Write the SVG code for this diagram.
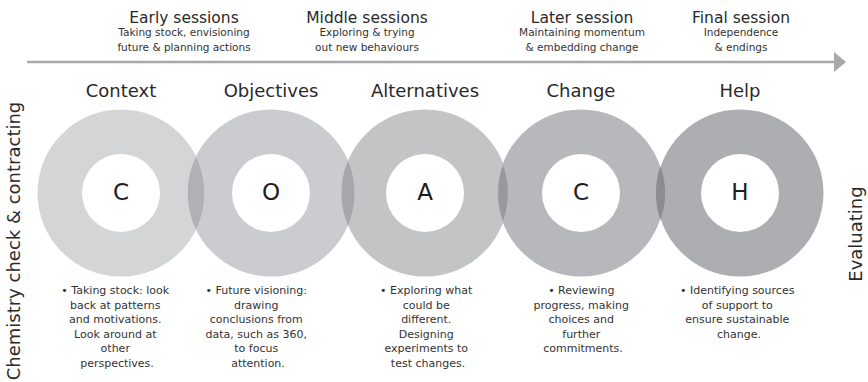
<svg xmlns="http://www.w3.org/2000/svg" width="868" height="382" viewBox="0 0 868 382">
  <style>
    text { font-family: "DejaVu Sans", "Liberation Sans", sans-serif; text-anchor: middle; }
    .phase { font-size: 15.5px; fill: #2a2a2a; }
    .phase-sub { font-size: 10.5px; fill: #333; }
    .title { font-size: 18px; fill: #2a2a2a; }
    .letter { font-size: 23px; fill: #1e1e1e; }
    .body { font-size: 11px; fill: #333; }
    .side { font-size: 18px; fill: #2a2a2a; }
    .hole { fill: #ffffff; }
  </style>
  <defs>
    <marker id="arrowhead" markerUnits="userSpaceOnUse" markerWidth="12" markerHeight="20" refX="1" refY="10" orient="auto">
      <path d="M0,0 L12,10 L0,20 Z" fill="#a8a9ab"/>
    </marker>
  </defs>

  <rect width="868" height="382" fill="#ffffff"/>

  <!-- timeline of session phases -->
  <g id="connectors">
    <line x1="27" y1="62" x2="835" y2="62" stroke="#a8a9ab" stroke-width="2.5" marker-end="url(#arrowhead)"/>
  </g>

  <g id="phase-early">
    <text class="phase" x="184" y="23">Early sessions</text>
    <text class="phase-sub" x="184" y="36">Taking stock, envisioning</text>
    <text class="phase-sub" x="184" y="51">future &amp; planning actions</text>
  </g>
  <g id="phase-middle">
    <text class="phase" x="367" y="23">Middle sessions</text>
    <text class="phase-sub" x="367" y="36">Exploring &amp; trying</text>
    <text class="phase-sub" x="367" y="51">out new behaviours</text>
  </g>
  <g id="phase-later">
    <text class="phase" x="582" y="23">Later session</text>
    <text class="phase-sub" x="582" y="36">Maintaining momentum</text>
    <text class="phase-sub" x="582" y="51">&amp; embedding change</text>
  </g>
  <g id="phase-final">
    <text class="phase" x="741" y="23">Final session</text>
    <text class="phase-sub" x="741" y="36">Independence</text>
    <text class="phase-sub" x="741" y="51">&amp; endings</text>
  </g>

  <!-- side labels -->
  <text class="side" transform="translate(20,241) rotate(-90)">Chemistry check &amp; contracting</text>
  <text class="side" transform="translate(862,234) rotate(-90)">Evaluating</text>

  <!-- outer rings -->
  <g id="node-context">
    <circle cx="121" cy="193" r="83.5" fill="#d4d5d7"/>
    <circle class="hole" cx="121" cy="193" r="39"/>
    <text class="title" x="121" y="97">Context</text>
    <text class="letter" x="121" y="200">C</text>
    <text class="body">
      <tspan x="117" y="294">• Taking stock: look</tspan>
      <tspan x="117" y="308.6">back at patterns</tspan>
      <tspan x="117" y="323.2">and motivations.</tspan>
      <tspan x="117" y="337.8">Look around at</tspan>
      <tspan x="117" y="352.4">other</tspan>
      <tspan x="117" y="367">perspectives.</tspan>
    </text>
  </g>

  <g id="node-objectives">
    <circle cx="271" cy="193" r="83.5" fill="#cbcccf"/>
    <circle class="hole" cx="271" cy="193" r="39"/>
    <text class="title" x="271" y="97">Objectives</text>
    <text class="letter" x="271" y="200">O</text>
    <text class="body">
      <tspan x="258" y="294">• Future visioning:</tspan>
      <tspan x="258" y="308.6">drawing</tspan>
      <tspan x="258" y="323.2">conclusions from</tspan>
      <tspan x="258" y="337.8">data, such as 360,</tspan>
      <tspan x="258" y="352.4">to focus</tspan>
      <tspan x="258" y="367">attention.</tspan>
    </text>
  </g>

  <g id="node-alternatives">
    <circle cx="425" cy="193" r="83.5" fill="#c3c4c6"/>
    <circle class="hole" cx="425" cy="193" r="39"/>
    <text class="title" x="425" y="97">Alternatives</text>
    <text class="letter" x="425" y="200">A</text>
    <text class="body">
      <tspan x="428" y="294">• Exploring what</tspan>
      <tspan x="428" y="308.6">could be</tspan>
      <tspan x="428" y="323.2">different.</tspan>
      <tspan x="428" y="337.8">Designing</tspan>
      <tspan x="428" y="352.4">experiments to</tspan>
      <tspan x="428" y="367">test changes.</tspan>
    </text>
  </g>

  <g id="node-change">
    <circle cx="581" cy="193" r="83.5" fill="#b7b8bb"/>
    <circle class="hole" cx="581" cy="193" r="39"/>
    <text class="title" x="581" y="97">Change</text>
    <text class="letter" x="581" y="200">C</text>
    <text class="body">
      <tspan x="583" y="294">• Reviewing</tspan>
      <tspan x="583" y="308.6">progress, making</tspan>
      <tspan x="583" y="323.2">choices and</tspan>
      <tspan x="583" y="337.8">further</tspan>
      <tspan x="583" y="352.4">commitments.</tspan>
    </text>
  </g>

  <g id="node-help">
    <circle cx="740" cy="193" r="83.5" fill="#adaeb1"/>
    <circle class="hole" cx="740" cy="193" r="39"/>
    <text class="title" x="740" y="97">Help</text>
    <text class="letter" x="740" y="200">H</text>
    <text class="body">
      <tspan x="739" y="294">• Identifying sources</tspan>
      <tspan x="739" y="308.6">of support to</tspan>
      <tspan x="739" y="323.2">ensure sustainable</tspan>
      <tspan x="739" y="337.8">change.</tspan>
    </text>
  </g>

  <!-- darker lenses where neighbouring rings overlap -->
  <g id="overlaps">
    <path d="M196,156.7 A83.5,83.5 0 0 1 196,229.3 A83.5,83.5 0 0 1 196,156.7 Z" fill="#b0b1b4"/>
    <path d="M348,160.7 A83.5,83.5 0 0 1 348,225.3 A83.5,83.5 0 0 1 348,160.7 Z" fill="#a6a7aa"/>
    <path d="M503,165.2 A83.5,83.5 0 0 1 503,220.8 A83.5,83.5 0 0 1 503,165.2 Z" fill="#98999c"/>
    <path d="M660.5,165.9 A83.5,83.5 0 0 1 660.5,220.1 A83.5,83.5 0 0 1 660.5,165.9 Z" fill="#8c8d90"/>
  </g>
</svg>
